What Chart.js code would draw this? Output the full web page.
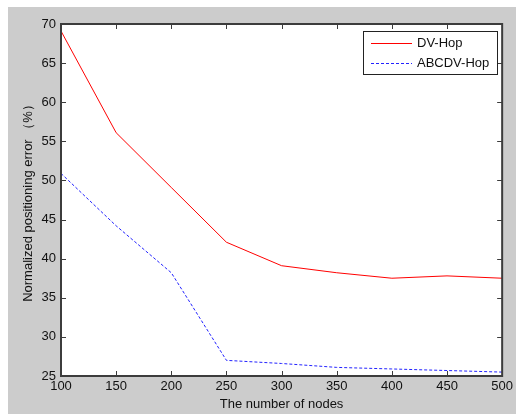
<!DOCTYPE html>
<html>
<head>
<meta charset="utf-8">
<script src="https://cdn.jsdelivr.net/npm/chart.js@4"></script>
<style>
  html, body { margin: 0; padding: 0; background: #fff; }
  #wrap { width: 516px; height: 414px; }
</style>
</head>
<body>
<div id="wrap"><canvas id="errChart" width="516" height="414"></canvas></div>
<script>
// data
const nodes = [100, 150, 200, 250, 300, 350, 400, 450, 500];
const dvHop = [69.1, 56.1, 49.1, 42.1, 39.1, 38.2, 37.5, 37.8, 37.5];
const abcdvHop = [50.9, 44.2, 38.2, 27.0, 26.6, 26.1, 25.9, 25.7, 25.5];
const seriesNames = ['DV-Hop', 'ABCDV-Hop'];
const xTicks = [100, 150, 200, 250, 300, 350, 400, 450, 500];
const yTicks = [25, 30, 35, 40, 45, 50, 55, 60, 65, 70];

const FONT = 'Liberation Sans, Arial, sans-serif';
const axisColor = '#3c3c3c';

// MATLAB style frame: grey figure, white axes, boxed with inward ticks
const matlabFrame = {
    id: 'matlabFrame',
    beforeDraw(chart) {
        const ctx = chart.ctx;
        const a = chart.chartArea;
        ctx.save();
        ctx.fillStyle = '#ffffff';
        ctx.fillRect(0, 0, chart.width, chart.height);
        ctx.fillStyle = '#cccccc';
        ctx.fillRect(8, 7, chart.width - 8, chart.height - 7);
        ctx.fillStyle = '#ffffff';
        ctx.fillRect(a.left, a.top, a.right - a.left, a.bottom - a.top);
        ctx.restore();
    },
    afterDatasetsDraw(chart) {
        const ctx = chart.ctx;
        const a = chart.chartArea;
        const xs = chart.scales.x, ys = chart.scales.y;
        ctx.save();
        ctx.strokeStyle = axisColor;
        ctx.lineWidth = 1;
        ctx.beginPath();
        xTicks.forEach(v => {
            const px = Math.round(xs.getPixelForValue(v)) + 0.5;
            ctx.moveTo(px, a.bottom); ctx.lineTo(px, a.bottom - 5);
            ctx.moveTo(px, a.top); ctx.lineTo(px, a.top + 5);
        });
        yTicks.forEach(v => {
            const py = Math.round(ys.getPixelForValue(v)) + 0.5;
            ctx.moveTo(a.left, py); ctx.lineTo(a.left + 5, py);
            ctx.moveTo(a.right, py); ctx.lineTo(a.right - 5, py);
        });
        ctx.stroke();
        ctx.lineWidth = 2;
        ctx.strokeRect(a.left, a.top, a.right - a.left, a.bottom - a.top);

        // legend box
        const lx = 363, ly = 31, lw = 134, lh = 43;
        ctx.fillStyle = '#ffffff';
        ctx.fillRect(lx, ly, lw, lh);
        ctx.lineWidth = 1;
        ctx.strokeStyle = '#222';
        ctx.strokeRect(lx + 0.5, ly + 0.5, lw, lh);
        chart.data.datasets.forEach((ds, i) => {
            const yy = ly + 12.5 + i * 20;
            ctx.strokeStyle = ds.borderColor;
            ctx.setLineDash(ds.borderDash || []);
            ctx.beginPath();
            ctx.moveTo(371, yy); ctx.lineTo(412, yy);
            ctx.stroke();
            ctx.setLineDash([]);
            ctx.fillStyle = '#111';
            ctx.font = '13px ' + FONT;
            ctx.textBaseline = 'middle';
            ctx.fillText(ds.label, 417, yy);
        });
        ctx.restore();
    }
};

new Chart(document.getElementById('errChart').getContext('2d'), {
    type: 'line',
    data: {
        datasets: [{
            label: seriesNames[0],
            data: nodes.map((n, i) => ({ x: n, y: dvHop[i] })),
            borderColor: '#ff0000',
            borderWidth: 1,
            pointRadius: 0,
            tension: 0
        }, {
            label: seriesNames[1],
            data: nodes.map((n, i) => ({ x: n, y: abcdvHop[i] })),
            borderColor: '#2222ff',
            borderWidth: 1,
            borderDash: [3, 2],
            pointRadius: 0,
            tension: 0
        }]
    },
    options: {
        responsive: false,
        animation: false,
        layout: { padding: { left: 0, top: 24, right: 8, bottom: 0 } },
        plugins: {
            legend: { display: false },
            tooltip: { enabled: false }
        },
        scales: {
            x: {
                type: 'linear',
                min: 100,
                max: 500,
                afterBuildTicks: s => { s.ticks = xTicks.map(v => ({ value: v })); },
                afterFit: s => { s.height = 38; },
                grid: { display: false, drawTicks: false },
                border: { display: false },
                ticks: { color: '#111', font: { family: FONT, size: 13 }, padding: 3, maxRotation: 0 },
                title: {
                    display: true,
                    text: 'The number of nodes',
                    color: '#111',
                    font: { family: FONT, size: 13 },
                    padding: { top: 0, bottom: 2 }
                }
            },
            y: {
                min: 25,
                max: 70,
                afterBuildTicks: s => { s.ticks = yTicks.map(v => ({ value: v })); },
                afterFit: s => { s.width = 61; },
                grid: { display: false, drawTicks: false },
                border: { display: false },
                ticks: { color: '#111', font: { family: FONT, size: 13 }, padding: 5 },
                title: {
                    display: true,
                    text: 'Normalized positioning error （%）',
                    color: '#111',
                    font: { family: FONT, size: 13 },
                    padding: { top: 21, bottom: 0 }
                }
            }
        }
    },
    plugins: [matlabFrame]
});
</script>
</body>
</html>
